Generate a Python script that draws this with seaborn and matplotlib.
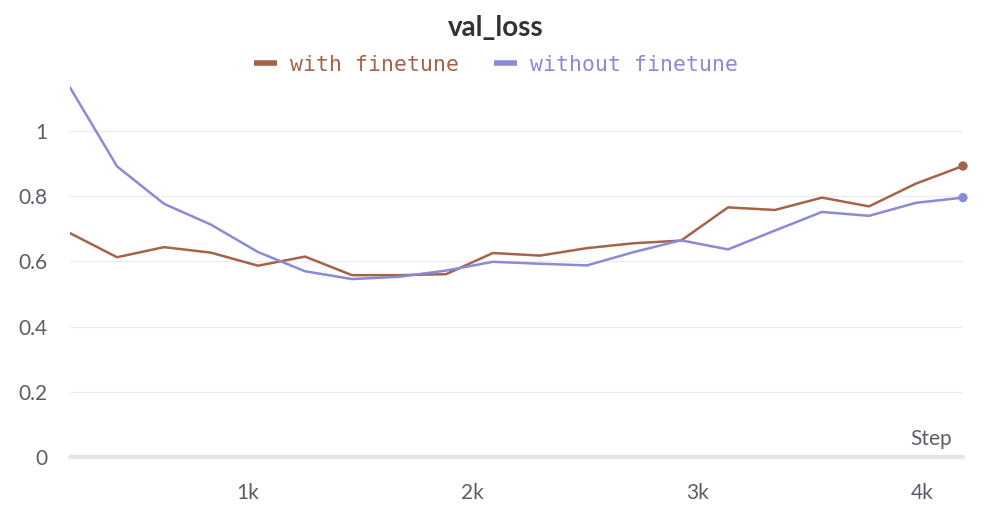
import numpy as np
import pandas as pd
import matplotlib
matplotlib.use("Agg")
import matplotlib.pyplot as plt
import seaborn as sns
from matplotlib.ticker import FixedLocator
from matplotlib.lines import Line2D

steps = [209 * k for k in range(1, 21)]
with_finetune = [0.687, 0.613, 0.644, 0.627, 0.587, 0.615, 0.558, 0.558, 0.561, 0.626,
                 0.618, 0.641, 0.656, 0.664, 0.766, 0.758, 0.796, 0.769, 0.839, 0.893]
without_finetune = [1.134, 0.892, 0.777, 0.713, 0.629, 0.570, 0.546, 0.553, 0.572, 0.599,
                    0.593, 0.588, 0.629, 0.665, 0.637, 0.695, 0.752, 0.740, 0.780, 0.796]
series_names = ["with finetune", "without finetune"]
colors = ["#A5634A", "#8A8AD6"]
y_ticks = [0, 0.2, 0.4, 0.6, 0.8, 1.0]
y_tick_labels = ["0", "0.2", "0.4", "0.6", "0.8", "1"]
x_ticks = [1000, 2000, 3000, 4000]
x_tick_labels = ["1k", "2k", "3k", "4k"]

df = pd.DataFrame({
    "Step": steps * 2,
    "val_loss": with_finetune + without_finetune,
    "run": [series_names[0]] * len(steps) + [series_names[1]] * len(steps),
})

sns.set_theme(style="white")
plt.rcParams['font.family'] = ['Lato', 'DejaVu Sans']

fig = plt.figure(figsize=(9.92, 5.26), dpi=100)
ax = fig.add_axes([70 / 992, 1 - 457 / 526, (963 - 70) / 992, (457 - 85.5) / 526])

sns.lineplot(data=df, x="Step", y="val_loss", hue="run", palette=colors,
             linewidth=1.8, ax=ax, legend=False)
ends = df.groupby("run").tail(1)
sns.scatterplot(data=ends, x="Step", y="val_loss", hue="run", palette=colors,
                s=45, edgecolor="none", ax=ax, legend=False, zorder=5)
for coll in ax.collections:
    coll.set_clip_on(False)

ax.set_xlim(steps[0], steps[-1])
ax.set_ylim(0, 1.14)
for sp in ax.spines.values():
    sp.set_visible(False)
ax.axhline(0, color="#e4e4e6", lw=3, zorder=1, clip_on=False)

ax.yaxis.set_major_locator(FixedLocator(y_ticks))
ax.set_yticklabels(y_tick_labels)
ax.xaxis.set_major_locator(FixedLocator(x_ticks))
ax.set_xticklabels(x_tick_labels)
ax.grid(axis="y", color="#ececee", lw=1)
ax.tick_params(axis="y", length=0, pad=16, labelsize=15, labelcolor="#5d5d69")
ax.tick_params(axis="x", length=10, width=1, color="#e4e4e6", direction="inout",
               pad=14, labelsize=15, labelcolor="#5d5d69")
ax.set_xlabel("")
ax.set_ylabel("")
ax.text(1.0 - 11 / 893, 8 / 371, "Step", transform=ax.transAxes, ha="right", va="bottom",
        fontsize=15, color="#5d5d69")

fig.text(0.5, 1 - 28 / 526, "val_loss", ha="center", va="center", fontsize=20,
         fontweight="bold", color="#2f3338")

handles = [Line2D([0], [0], color=c, lw=4, solid_capstyle="butt") for c in colors]
leg = fig.legend(handles, series_names, loc="center", bbox_to_anchor=(0.5, 1 - 65 / 526),
                 ncol=2, frameon=False, handlelength=1.1, handletextpad=0.6,
                 columnspacing=1.6, prop={"family": "DejaVu Sans Mono", "size": 15.5})
for t, c in zip(leg.get_texts(), colors):
    t.set_color(c)

fig.savefig("out.png", dpi=100)
